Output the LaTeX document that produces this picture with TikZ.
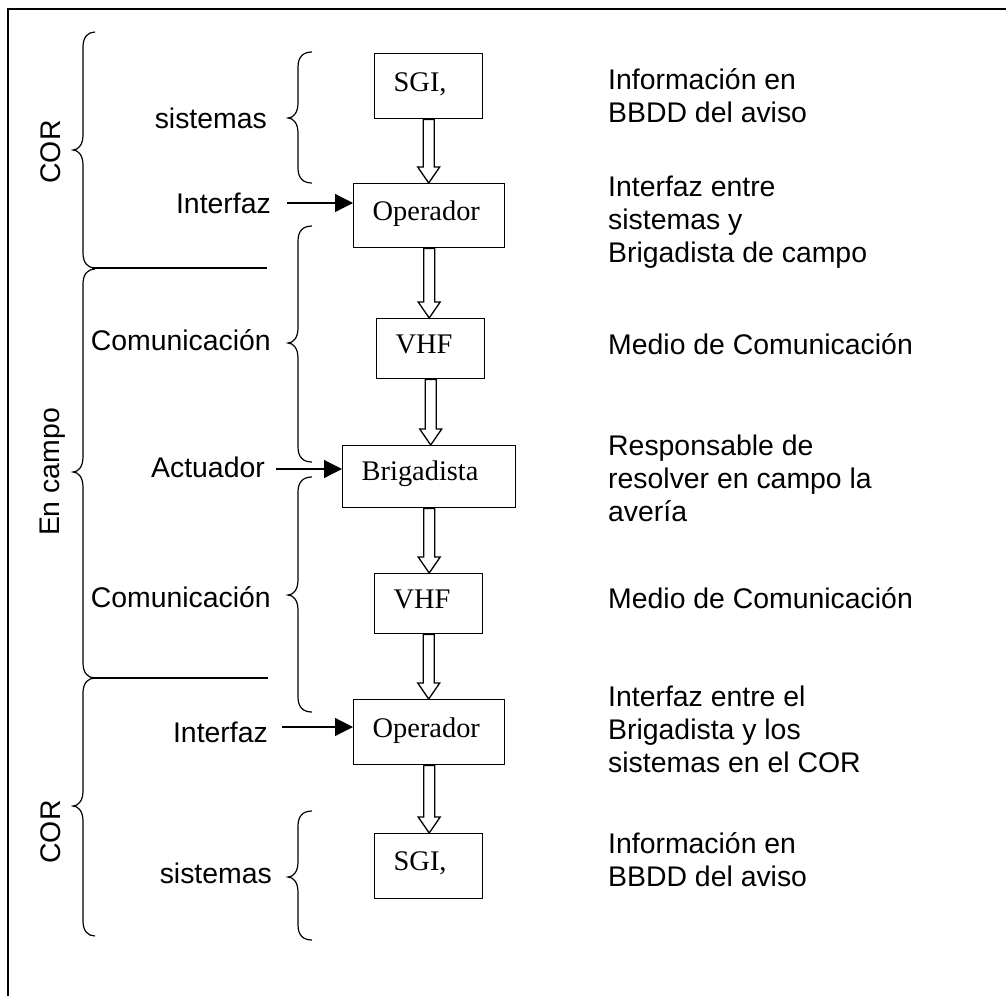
\documentclass[tikz,border=0pt]{standalone}
\usepackage{fontspec}
\setmainfont{Liberation Sans}
\newfontfamily\boxfont{Liberation Serif}
\usetikzlibrary{arrows.meta,calc}

\tikzset{
  every node/.style={font=\fontsize{28.4}{32.7}\selectfont, inner sep=0pt},
  frame/.style={line width=1.6pt},
  bracepath/.style={line width=1.2pt},
  stepbox/.style={draw, line width=1.4pt, anchor=north west, inner xsep=19pt,
    inner ysep=0pt, align=left, font=\boxfont\fontsize{28.4}{32.7}\selectfont},
  blockarrow/.style={draw, fill=white, line width=1.3pt, line join=miter},
  feed/.style={line width=1.2pt, -{Triangle[length=18pt,width=18pt]}},
  tag/.style={anchor=base east},
  note/.style={anchor=base west, align=left},
  side/.style={rotate=90, anchor=base}
}

% curly brace opening to the right: tip x, stem x, end x, top y, tip y, bottom y
\newcommand\curlybrace[6]{%
  \draw[bracepath] (#3,#4) .. controls (#2+5,#4) and (#2,#4+5) .. (#2,#4+15)
    -- (#2,#5-15) .. controls (#2,#5-5) and (#1+5,#5) .. (#1,#5)
    .. controls (#1+5,#5) and (#2,#5+5) .. (#2,#5+15)
    -- (#2,#6-15) .. controls (#2,#6-5) and (#2+5,#6) .. (#3,#6);}

% hollow block arrow from the bottom of one box to the top of the next
\newcommand\hollowdown[2]{%
  \draw[blockarrow] let \p1=(#1.south), \p2=(#2.north) in
    (\x1-5.5pt,\y1) -- (\x1-5.5pt,\y2+16pt) -- (\x1-11pt,\y2+16pt) -- (\x1,\y2)
    -- (\x1+11pt,\y2+16pt) -- (\x1+5.5pt,\y2+16pt) -- (\x1+5.5pt,\y1) -- cycle;}

\begin{document}
\begin{tikzpicture}[x=1pt,y=-1pt]
\useasboundingbox (0,0) rectangle (1006,996);

% frame
\draw[frame] (8,996) -- (8,9) -- (1006,9);

% chain of boxes
\node[stepbox, text width=70pt,  text height=38pt, text depth=27pt] (sgiA) at (374,53)  {SGI,};
\node[stepbox, text width=113pt, text height=37pt, text depth=27pt] (opA)  at (353,183) {Operador};
\node[stepbox, text width=70pt,  text height=35pt, text depth=25pt] (vhfA) at (376,318) {VHF};
\node[stepbox, text width=135pt, text height=35pt, text depth=27pt] (brig) at (342,445) {Brigadista};
\node[stepbox, text width=70pt,  text height=35pt, text depth=25pt] (vhfB) at (374,573) {VHF};
\node[stepbox, text width=113pt, text height=38pt, text depth=27pt] (opB)  at (353,699) {Operador};
\node[stepbox, text width=70pt,  text height=37pt, text depth=28pt] (sgiB) at (374,833) {SGI,};

\hollowdown{sgiA}{opA}
\hollowdown{opA}{vhfA}
\hollowdown{vhfA}{brig}
\hollowdown{brig}{vhfB}
\hollowdown{vhfB}{opB}
\hollowdown{opB}{sgiB}

% incoming roles
\coordinate (inA) at (287,203);
\coordinate (inB) at (276,469);
\coordinate (inC) at (282,727);
\draw[feed] (inA) -- (inA -| opA.west);
\draw[feed] (inB) -- (inB -| brig.west);
\draw[feed] (inC) -- (inC -| opB.west);

% inner braces
\curlybrace{288}{298}{312}{52}{118}{183}
\curlybrace{288}{298}{312}{226}{343}{462}
\curlybrace{288}{298}{312}{477}{595}{712}
\curlybrace{288}{298}{312}{811}{877}{940}

% outer braces and separators
\curlybrace{73}{83}{95}{32}{150}{268}
\curlybrace{73}{83}{95}{269}{472}{678}
\curlybrace{73}{83}{95}{678}{806}{936}
\draw[bracepath] (92,268) -- (267,268);
\draw[bracepath] (92,678) -- (268,678);

% left labels
\node[tag] (lsisA) at (267,128) {sistemas};
\node[tag] (lintA) at (271,213) {Interfaz};
\node[tag] (lcomA) at (271,350) {Comunicación};
\node[tag] (lact)  at (265,477) {Actuador};
\node[tag] (lcomB) at (271,607) {Comunicación};
\node[tag] (lintB) at (268,742) {Interfaz};
\node[tag] (lsisB) at (272,883) {sistemas};

\node[side] (corA)  at (60,152) {COR};
\node[side] (campo) at (59,472) {En campo};
\node[side] (corB)  at (60,832) {COR};

% descriptions (anchored on the baseline of their last line)
\node[note] (dA) at (608,122) {Información en\\BBDD del aviso};
\node[note] (dB) at (608,262) {Interfaz entre\\sistemas y\\Brigadista de campo};
\node[note] (dC) at (608,354) {Medio de Comunicación};
\node[note] (dD) at (608,521) {Responsable de\\resolver en campo la\\avería};
\node[note] (dE) at (608,608) {Medio de Comunicación};
\node[note] (dF) at (608,772) {Interfaz entre el\\Brigadista y los\\sistemas en el COR};
\node[note] (dG) at (608,886) {Información en\\BBDD del aviso};
\end{tikzpicture}
\end{document}
